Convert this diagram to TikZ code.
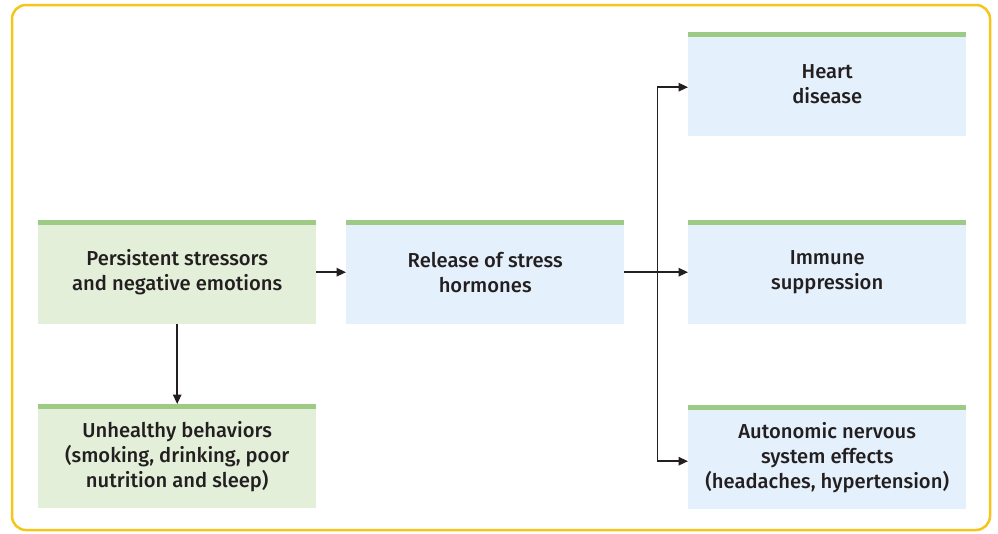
\documentclass[tikz,border=0pt]{standalone}
\usepackage{fontspec}
\setmainfont{Fira Sans}
\newfontfamily\cardfont{Fira Sans}[UprightFont={* Medium}]
\usetikzlibrary{arrows.meta}
\definecolor{framey}{HTML}{F5C518}
\definecolor{greenbox}{HTML}{E3EFD9}
\definecolor{bluebox}{HTML}{E4F0FB}
\definecolor{greenbar}{HTML}{9DCB86}
\definecolor{ink}{HTML}{231F20}
\tikzset {>={Triangle[length=9.5pt,width=8.5pt]}}
\tikzset{
  card/.style={anchor=north west,minimum width=278pt,minimum height=104pt,
    inner sep=0pt,align=center,text=ink,
    font=\cardfont\fontsize{20.2pt}{25pt}\selectfont},
  gcard/.style={card,fill=greenbox},
  bcard/.style={card,fill=bluebox},
  bar/.style={greenbar,line width=4.5pt},
  link/.style={->,ink,line width=1.5pt}}

\begin{document}
\begin{tikzpicture}[x=1pt,y=-1pt]
\useasboundingbox (0,0) rectangle (998,533);
\draw[framey,line width=2.5pt,rounded corners=14pt] (12,5) rectangle (990,530);
\node[gcard] (stress) at (38,220) {Persistent stressors\\and negative emotions};
\node[bcard] (hormones) at (346,220) {Release of stress\\hormones};
\node[gcard] (behav) at (38,404) {Unhealthy behaviors\\(smoking, drinking, poor\\nutrition and sleep)};
\node[bcard] (heart) at (688,32) {Heart\\disease};
\node[bcard] (immune) at (688,220) {Immune\\suppression};
\node[bcard] (ans) at (688,405) {Autonomic nervous\\system effects\\(headaches, hypertension)};
\foreach \n in {stress,hormones,behav,heart,immune,ans}
  \draw[bar] ([yshift=-2.25pt]\n.north west) -- ([yshift=-2.25pt]\n.north east);
\coordinate (fork) at ([xshift=33pt]hormones.east);
\draw[link] (stress) -- (hormones);
\draw[link] (stress.south) -- (behav.north);
\draw[ink,line width=1.5pt] (hormones.east) -- (fork);
\draw[link] (fork) -- (immune.west);
\draw[link] (fork) |- ([yshift=-3pt]heart.west);
\draw[link] (fork) |- ([yshift=-4pt]ans.west);
\end{tikzpicture}
\end{document}
